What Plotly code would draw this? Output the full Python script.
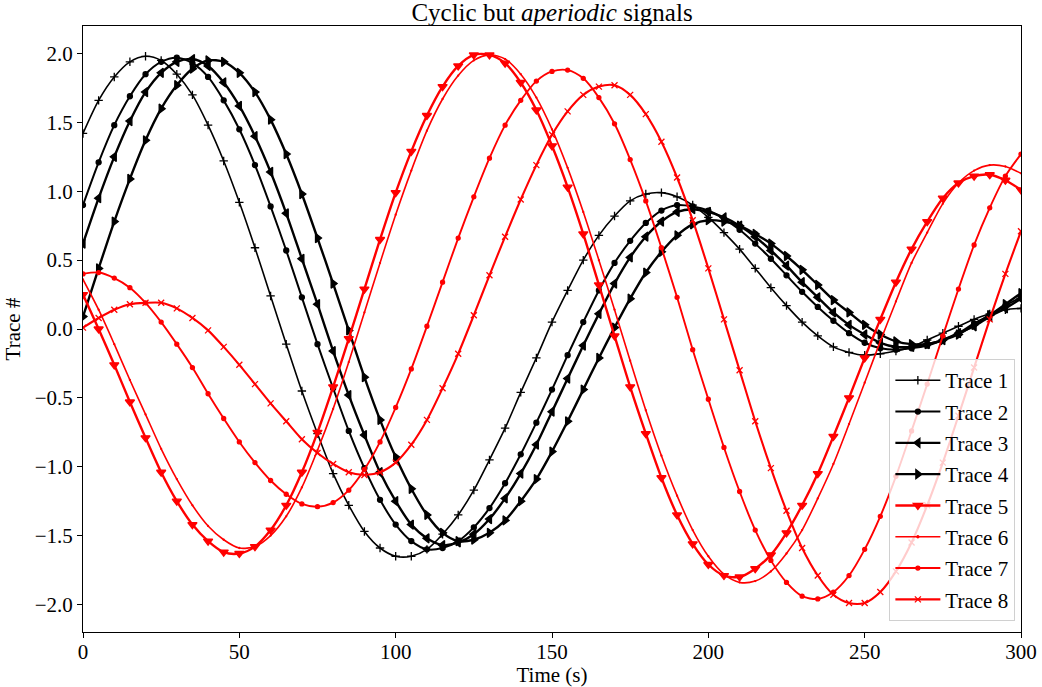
import plotly.graph_objects as go

time_s = list(range(0, 301, 5))

trace1 = [1.42, 1.66, 1.83, 1.94, 1.98, 1.95, 1.85, 1.70, 1.48, 1.22, 0.92, 0.59, 0.24, -0.11, -0.45, -0.76,
          -1.05, -1.28, -1.47, -1.59, -1.65, -1.65, -1.60, -1.49, -1.35, -1.17, -0.95, -0.72, -0.46, -0.21,
          0.05, 0.28, 0.50, 0.68, 0.82, 0.93, 0.98, 0.99, 0.96, 0.90, 0.81, 0.70, 0.58, 0.44, 0.30, 0.17,
          0.05, -0.05, -0.13, -0.17, -0.19, -0.18, -0.16, -0.13, -0.08, -0.03, 0.02, 0.07, 0.11, 0.14, 0.15]
trace2 = [0.90, 1.21, 1.48, 1.69, 1.85, 1.94, 1.97, 1.93, 1.83, 1.66, 1.45, 1.19, 0.89, 0.57, 0.23, -0.11,
          -0.43, -0.74, -1.01, -1.24, -1.42, -1.54, -1.60, -1.59, -1.54, -1.44, -1.30, -1.12, -0.91, -0.68,
          -0.44, -0.19, 0.05, 0.28, 0.48, 0.64, 0.77, 0.86, 0.90, 0.89, 0.86, 0.80, 0.72, 0.62, 0.51, 0.39,
          0.27, 0.16, 0.06, -0.03, -0.10, -0.14, -0.15, -0.14, -0.12, -0.08, -0.03, 0.04, 0.10, 0.17, 0.23]
trace3 = [0.62, 0.95, 1.25, 1.51, 1.72, 1.86, 1.94, 1.96, 1.91, 1.79, 1.62, 1.40, 1.14, 0.84, 0.51, 0.18,
          -0.16, -0.48, -0.77, -1.04, -1.25, -1.42, -1.52, -1.57, -1.55, -1.49, -1.38, -1.23, -1.05, -0.84,
          -0.60, -0.36, -0.12, 0.11, 0.33, 0.52, 0.67, 0.78, 0.85, 0.87, 0.85, 0.81, 0.75, 0.67, 0.57, 0.46,
          0.34, 0.23, 0.12, 0.03, -0.04, -0.10, -0.13, -0.13, -0.11, -0.08, -0.03, 0.02, 0.09, 0.15, 0.22]
trace4 = [0.09, 0.44, 0.78, 1.09, 1.37, 1.60, 1.77, 1.89, 1.95, 1.94, 1.86, 1.72, 1.52, 1.27, 0.98, 0.66,
          0.33, -0.01, -0.35, -0.66, -0.93, -1.16, -1.35, -1.48, -1.54, -1.53, -1.48, -1.39, -1.25, -1.09,
          -0.89, -0.67, -0.44, -0.21, 0.01, 0.22, 0.41, 0.56, 0.68, 0.76, 0.79, 0.78, 0.75, 0.69, 0.62, 0.53,
          0.43, 0.32, 0.21, 0.12, 0.03, -0.04, -0.09, -0.11, -0.11, -0.08, -0.04, 0.03, 0.10, 0.18, 0.26]
trace5 = [0.25, 0.00, -0.26, -0.53, -0.79, -1.04, -1.25, -1.42, -1.54, -1.62, -1.63, -1.58, -1.46, -1.28,
          -1.04, -0.75, -0.42, -0.07, 0.29, 0.65, 0.99, 1.29, 1.55, 1.76, 1.91, 1.99, 1.99, 1.93, 1.79, 1.59,
          1.33, 1.03, 0.69, 0.32, -0.05, -0.42, -0.76, -1.08, -1.35, -1.56, -1.71, -1.79, -1.80, -1.74, -1.64,
          -1.48, -1.28, -1.05, -0.78, -0.50, -0.21, 0.07, 0.34, 0.58, 0.78, 0.95, 1.06, 1.11, 1.12, 1.08, 1.01]
trace6 = [0.36, 0.14, -0.11, -0.37, -0.62, -0.87, -1.09, -1.28, -1.43, -1.53, -1.59, -1.58, -1.50, -1.36,
          -1.15, -0.88, -0.58, -0.24, 0.12, 0.48, 0.83, 1.15, 1.44, 1.67, 1.84, 1.95, 1.99, 1.96, 1.85, 1.68,
          1.45, 1.17, 0.85, 0.50, 0.14, -0.23, -0.59, -0.92, -1.21, -1.46, -1.65, -1.78, -1.84, -1.83, -1.76,
          -1.63, -1.46, -1.23, -0.98, -0.69, -0.39, -0.09, 0.20, 0.48, 0.70, 0.91, 1.06, 1.15, 1.19, 1.18, 1.13]
trace7 = [0.40, 0.41, 0.37, 0.30, 0.19, 0.05, -0.11, -0.28, -0.47, -0.65, -0.82, -0.97, -1.10, -1.20, -1.27,
          -1.29, -1.26, -1.17, -1.02, -0.82, -0.57, -0.29, 0.02, 0.34, 0.66, 0.96, 1.24, 1.48, 1.66, 1.80,
          1.87, 1.88, 1.82, 1.68, 1.49, 1.23, 0.93, 0.59, 0.23, -0.15, -0.51, -0.86, -1.18, -1.46, -1.68,
          -1.84, -1.94, -1.96, -1.91, -1.79, -1.60, -1.36, -1.07, -0.74, -0.40, -0.05, 0.29, 0.61, 0.88, 1.11, 1.27]
trace8 = [0.01, 0.08, 0.14, 0.18, 0.19, 0.19, 0.15, 0.08, -0.01, -0.13, -0.26, -0.40, -0.54, -0.67, -0.80,
          -0.90, -0.98, -1.04, -1.06, -1.04, -0.97, -0.84, -0.66, -0.43, -0.18, 0.10, 0.39, 0.67, 0.94, 1.19,
          1.41, 1.58, 1.70, 1.76, 1.77, 1.70, 1.56, 1.36, 1.10, 0.79, 0.44, 0.07, -0.30, -0.67, -1.01, -1.32,
          -1.59, -1.79, -1.93, -1.99, -1.99, -1.91, -1.76, -1.55, -1.28, -0.97, -0.63, -0.28, 0.07, 0.40, 0.71]

names = ["Trace 1", "Trace 2", "Trace 3", "Trace 4", "Trace 5", "Trace 6", "Trace 7", "Trace 8"]
series = [trace1, trace2, trace3, trace4, trace5, trace6, trace7, trace8]
colors = ["black"] * 4 + ["red"] * 4
symbols = ["cross-thin", "circle", "triangle-left", "triangle-right", "triangle-down", "circle", "circle", "x-thin"]
msizes = [6, 5, 8, 8, 8, 1, 4, 6]
lwidths = [1.6, 2.0, 2.4, 2.4, 2.4, 1.6, 1.9, 2.1]

x_ticks = [0, 50, 100, 150, 200, 250, 300]
y_ticks = [-2.0, -1.5, -1.0, -0.5, 0.0, 0.5, 1.0, 1.5, 2.0]

fig = go.Figure()
for name, ys, col, sym, ms, lw in zip(names, series, colors, symbols, msizes, lwidths):
    fig.add_trace(go.Scatter(
        x=time_s, y=ys, name=name, legendgroup=name,
        mode="lines+markers",
        line=dict(color=col, width=lw, shape="spline", smoothing=0.8),
        marker=dict(symbol=sym, size=ms, color=col, line=dict(color=col, width=1.3)),
    ))

font_family = "Liberation Serif"
fig.update_layout(
    width=1042, height=687,
    margin=dict(l=83, r=21, t=26, b=55),
    paper_bgcolor="white", plot_bgcolor="white",
    font=dict(family=font_family, size=21, color="black"),
    title=dict(text="Cyclic but <i>aperiodic</i> signals", x=(83 + 469) / 1042, xanchor="center",
               y=1 - 12 / 687, yanchor="middle", font=dict(family=font_family, size=25, color="black")),
    legend=dict(x=0.994, y=0.018, xanchor="right", yanchor="bottom",
                bgcolor="rgba(255,255,255,0.8)", bordercolor="#d0d0d0", borderwidth=1,
                font=dict(family=font_family, size=21), tracegroupgap=1, traceorder="grouped",
                itemwidth=45),
    showlegend=True,
)
fig.update_xaxes(range=[0, 300], tickvals=x_ticks, ticks="outside", ticklen=5, tickwidth=1, tickcolor="black",
                 showline=True, linecolor="black", linewidth=1, mirror=True, showgrid=False, zeroline=False,
                 automargin=False, tickfont=dict(size=21), ticklabelstandoff=-4,
                 title=dict(text="Time (s)", font=dict(size=21), standoff=0))
fig.update_yaxes(range=[-2.2, 2.2], tickvals=y_ticks, tickformat=".1f", ticks="outside", ticklen=5, tickwidth=1,
                 tickcolor="black", showline=True, linecolor="black", linewidth=1, mirror=True, showgrid=False,
                 zeroline=False, automargin=False, tickfont=dict(size=21),
                 title=dict(text="Trace #", font=dict(size=21), standoff=8))

fig.write_html("out.html")
